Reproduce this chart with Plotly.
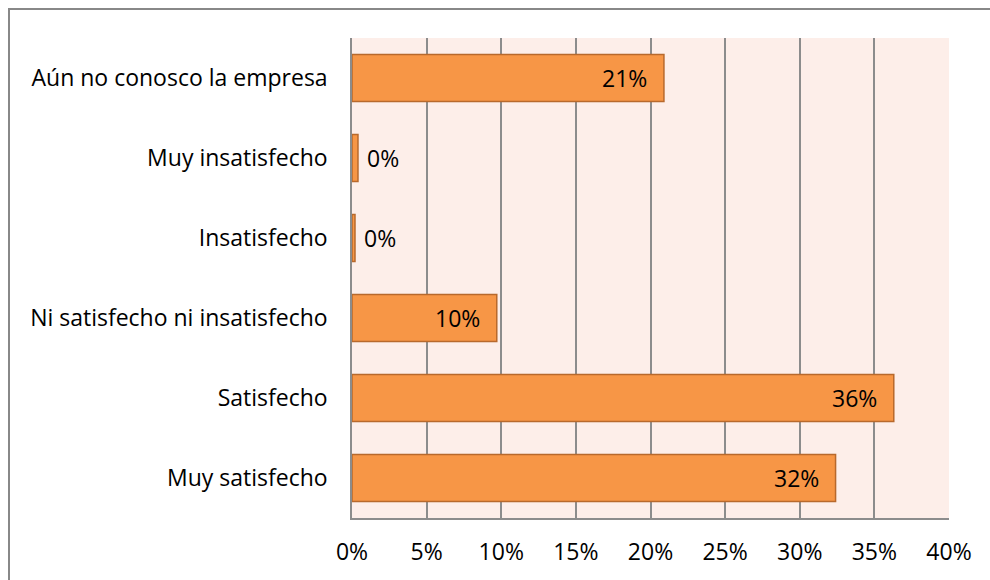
import plotly.graph_objects as go

# Survey responses: satisfaction with the company (share of respondents, %)
categories = [
    "Aún no conosco la empresa",
    "Muy insatisfecho",
    "Insatisfecho",
    "Ni satisfecho ni insatisfecho",
    "Satisfecho",
    "Muy satisfecho",
]
values = [20.9, 0.4, 0.2, 9.7, 36.3, 32.4]
x_ticks = [0, 5, 10, 15, 20, 25, 30, 35, 40]
x_tick_labels = [f"{t}%" for t in x_ticks]

FONT = "Open Sans"
FONT_SIZE = 23
BAR_FILL = "#F79646"
BAR_EDGE = "#B8692C"
PLOT_BG = "#FDEEE9"
GRID = "#8C8C8C"

fig = go.Figure(
    go.Bar(
        y=categories,
        x=values,
        orientation="h",
        marker=dict(color=BAR_FILL, line=dict(color=BAR_EDGE, width=1.5)),
        hoverinfo="skip",
    )
)

# Value labels: inside the bar end for wide bars, just outside for tiny ones
annotations = []
for cat, v in zip(categories, values):
    inside = v > 3
    annotations.append(
        dict(
            x=v,
            y=cat,
            xref="x",
            yref="y",
            text=f"{round(v)}%",
            showarrow=False,
            xanchor="right" if inside else "left",
            xshift=-15 if inside else 7,
            font=dict(family=FONT, size=FONT_SIZE, color="#000000"),
        )
    )

fig.update_layout(
    width=990,
    height=580,
    margin=dict(l=352, r=41, t=38, b=62),
    paper_bgcolor="white",
    plot_bgcolor=PLOT_BG,
    bargap=0.41,
    showlegend=False,
    font=dict(family=FONT, size=FONT_SIZE, color="#000000"),
    annotations=annotations,
    shapes=[
        # outer chart frame
        dict(
            type="rect",
            xref="paper",
            yref="paper",
            x0=(9 - 352) / 597,
            x1=(1000 - 352) / 597,
            y0=(518 - 600) / 480,
            y1=(518 - 9) / 480,
            line=dict(color="#888888", width=2),
            fillcolor="rgba(0,0,0,0)",
            layer="below",
        )
    ],
)

fig.update_xaxes(
    range=[0, 40],
    tickvals=x_ticks,
    ticktext=x_tick_labels,
    showgrid=True,
    gridcolor=GRID,
    gridwidth=1.5,
    showline=True,
    linecolor=GRID,
    linewidth=1.5,
    zeroline=False,
    ticks="",
    ticklabelstandoff=13,
    fixedrange=True,
)
fig.update_yaxes(
    categoryorder="array",
    categoryarray=categories[::-1],
    showgrid=False,
    showline=True,
    linecolor=GRID,
    linewidth=1.5,
    ticks="",
    ticklabelstandoff=18,
    fixedrange=True,
)

fig.write_html("out.html", config={"displayModeBar": False})
